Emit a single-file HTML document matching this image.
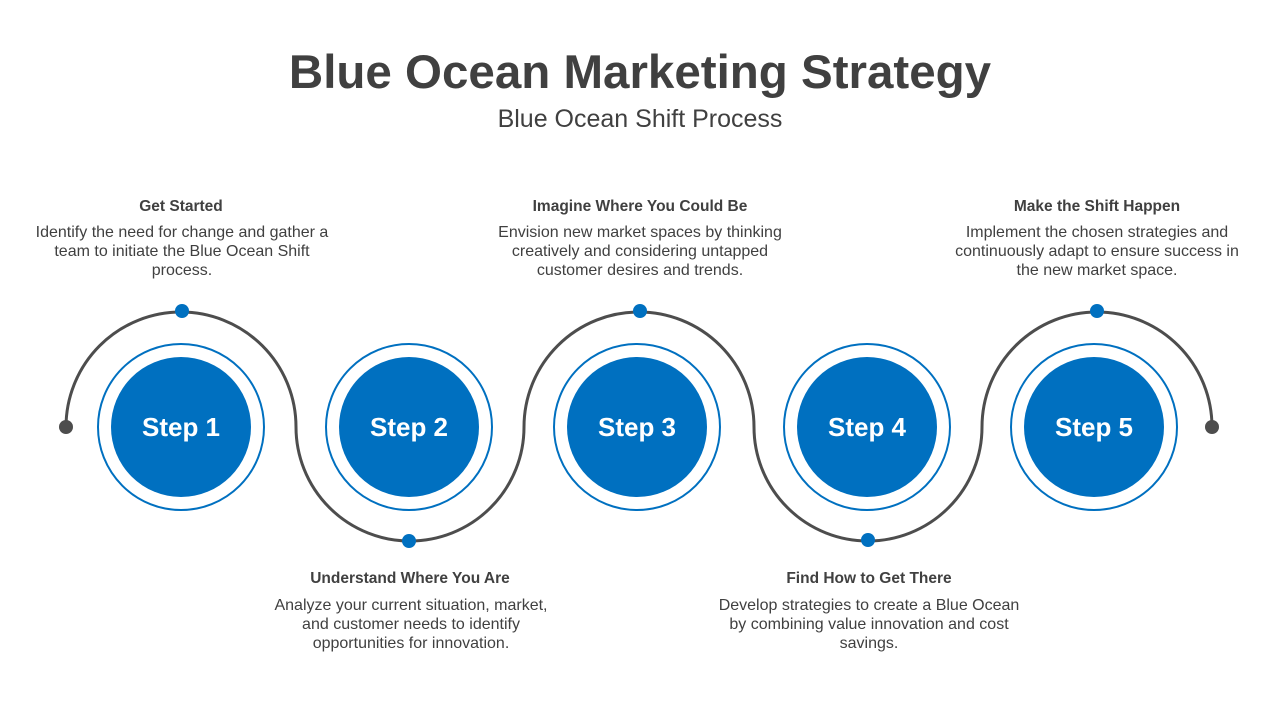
<!DOCTYPE html>
<html><head><meta charset="utf-8"><style>
body{margin:0;width:1280px;height:720px;background:#fff;overflow:hidden;font-family:"Liberation Sans",sans-serif}
</style></head><body>
<svg width="1280" height="720" viewBox="0 0 1280 720" xmlns="http://www.w3.org/2000/svg" font-family="Liberation Sans, sans-serif">
<text x="640" y="88" text-anchor="middle" font-size="47.5" font-weight="bold" fill="#404040">Blue Ocean Marketing Strategy</text>
<text x="640" y="127" text-anchor="middle" font-size="25" fill="#404040">Blue Ocean Shift Process</text>
<path d="M66 427 A115 115 0 0 1 296 427 A114 114 0 0 0 524 427 A115 115 0 0 1 754 427 A114 114 0 0 0 982 427 A115 115 0 0 1 1212 427" fill="none" stroke="#4d4d4d" stroke-width="3"/>
<circle cx="66" cy="427" r="7" fill="#4d4d4d"/><circle cx="1212" cy="427" r="7" fill="#4d4d4d"/>
<g fill="#0070c0">
<circle cx="182" cy="311" r="7"/><circle cx="409" cy="541" r="7"/><circle cx="640" cy="311" r="7"/><circle cx="868" cy="540" r="7"/><circle cx="1097" cy="311" r="7"/>
</g>
<g fill="none" stroke="#0070c0" stroke-width="2">
<circle cx="181" cy="427" r="83"/><circle cx="409" cy="427" r="83"/><circle cx="637" cy="427" r="83"/><circle cx="867" cy="427" r="83"/><circle cx="1094" cy="427" r="83"/>
</g>
<g fill="#0070c0">
<circle cx="181" cy="427" r="70"/><circle cx="409" cy="427" r="70"/><circle cx="637" cy="427" r="70"/><circle cx="867" cy="427" r="70"/><circle cx="1094" cy="427" r="70"/>
</g>
<g fill="#fff" font-size="26" font-weight="bold" text-anchor="middle">
<text x="181" y="436">Step 1</text><text x="409" y="436">Step 2</text><text x="637" y="436">Step 3</text><text x="867" y="436">Step 4</text><text x="1094" y="436">Step 5</text>
</g>
<g fill="#404040" font-size="16" text-anchor="middle">
<g font-weight="bold" font-size="15.5">
<text x="181" y="211">Get Started</text>
<text x="640" y="211">Imagine Where You Could Be</text>
<text x="1097" y="211">Make the Shift Happen</text>
<text x="410" y="583">Understand Where You Are</text>
<text x="869" y="583">Find How to Get There</text>
</g>
<text x="182" y="237">Identify the need for change and gather a</text>
<text x="182" y="256">team to initiate the Blue Ocean Shift</text>
<text x="182" y="275">process.</text>
<text x="640" y="237">Envision new market spaces by thinking</text>
<text x="640" y="256">creatively and considering untapped</text>
<text x="640" y="275">customer desires and trends.</text>
<text x="1097" y="237">Implement the chosen strategies and</text>
<text x="1097" y="256">continuously adapt to ensure success in</text>
<text x="1097" y="275">the new market space.</text>
<text x="411" y="610">Analyze your current situation, market,</text>
<text x="411" y="629">and customer needs to identify</text>
<text x="411" y="648">opportunities for innovation.</text>
<text x="869" y="610">Develop strategies to create a Blue Ocean</text>
<text x="869" y="629">by combining value innovation and cost</text>
<text x="869" y="648">savings.</text>
</g>
</svg>
</body></html>
